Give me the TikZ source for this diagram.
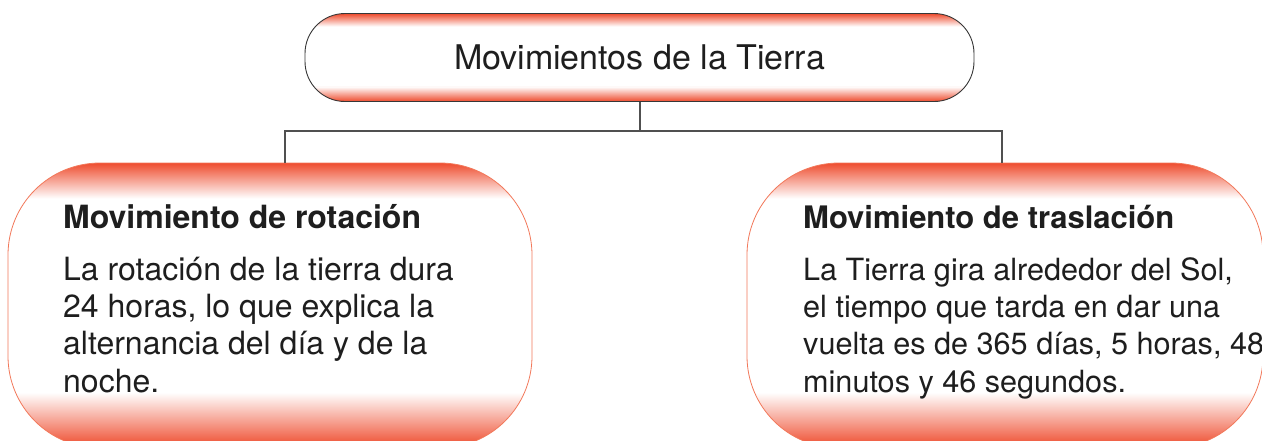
\documentclass[tikz,border=0pt]{standalone}
\usepackage{fontspec}
\setmainfont{TeX Gyre Heros}
\definecolor{edgeor}{RGB}{238,74,44}
\definecolor{bordergray}{RGB}{55,55,55}
\definecolor{linegray}{RGB}{80,80,80}
\definecolor{boxborder}{RGB}{242,120,90}
\definecolor{txt}{RGB}{30,30,30}
\tikzset{
  conn/.style={draw=linegray, line width=1.1pt},
  % top band of height #1, bottom band of height #2, drawn as thin strips
  bands/.style 2 args={path picture={
      \foreach \i in {1,...,#1}{
        \pgfmathsetmacro\p{100*(1-(\i-0.5)/#1)}
        \fill[sharp corners, edgeor!\p!white]
          ([yshift=-\i pt + 1pt]path picture bounding box.north west) rectangle
          ([yshift=-\i pt - 0.3pt]path picture bounding box.north east);
      }
      \foreach \i in {1,...,#2}{
        \pgfmathsetmacro\p{100*(1-(\i-0.5)/#2)}
        \fill[sharp corners, edgeor!\p!white]
          ([yshift=\i pt - 1pt]path picture bounding box.south west) rectangle
          ([yshift=\i pt + 0.3pt]path picture bounding box.south east);
      }
    }},
  titlebox/.style={rectangle, rounded corners=40pt, draw=bordergray, line width=0.9pt,
    fill=white, inner sep=0pt, minimum width=669pt, minimum height=88pt,
    text=txt, font=\fontsize{34}{40}\selectfont, bands={13}{15}},
  infobox/.style={rectangle, rounded corners=92pt, draw=boxborder, line width=0.8pt,
    fill=white, inner sep=0pt, minimum height=285pt, bands={36}{55}},
  headtext/.style={anchor=base west, inner sep=0pt, text=txt, font=\fontsize{32}{37}\selectfont\bfseries},
  bodytext/.style={anchor=base west, inner sep=0pt, text=txt, align=left, font=\fontsize{32}{37.3}\selectfont},
  narrow/.style={font=\fontsize{30.6}{37.3}\selectfont},
  narrowbold/.style={font=\fontsize{31}{37}\selectfont\bfseries},
}
\begin{document}
\begin{tikzpicture}[x=1pt,y=-1pt]
\useasboundingbox (0,0) rectangle (1262,440);
\begin{scope}
\clip (0,0) rectangle (1262,440);
\node[titlebox] (title) at (639.5,57.5) {Movimientos de la Tierra};
\node[infobox, minimum width=524pt] (rot) at (270,305.5) {};
\node[infobox, minimum width=516pt] (tras) at (1005,305.5) {};
\end{scope}

\coordinate (hub) at (640,131);
\coordinate (rotin) at (285,163);
\coordinate (trasin) at (1002,163);
\draw[conn] (title.south -| hub) -- (hub);
\draw[conn] (rotin) |- (hub) -| (trasin);

\node[headtext] (roth) at (63,228) {Movimiento de rotación};
\node[bodytext] (rotb) at (63,392) {La rotación de la tierra dura\\24 horas, lo que explica la\\alternancia del día y de la\\noche.};
\node[headtext, narrowbold] (trash) at (803,228) {Movimiento de traslación};
\node[bodytext, narrow] (trasb) at (803,392) {La Tierra gira alrededor del Sol,\\el tiempo que tarda en dar una\\vuelta es de 365 días, 5 horas, 48\\minutos y 46 segundos.};
\end{tikzpicture}
\end{document}
